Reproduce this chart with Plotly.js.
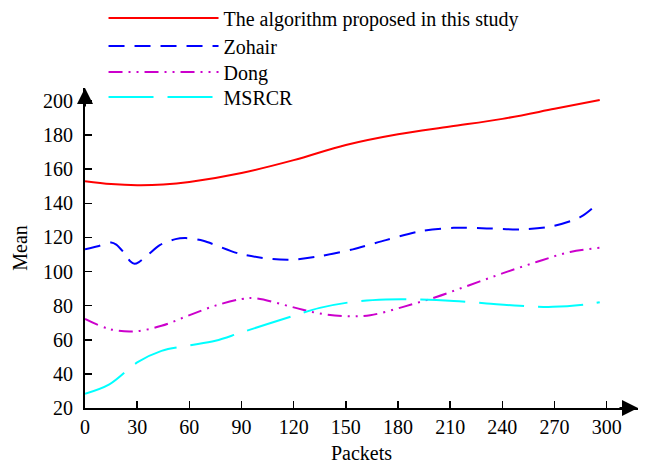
<!DOCTYPE html>
<html>
<head>
<meta charset="utf-8">
<script src="https://cdn.plot.ly/plotly-3.0.1.min.js"></script>
<style>html,body{margin:0;padding:0;background:#fff;}#chart{width:651px;height:464px;}</style>
</head>
<body>
<div id="chart"></div>
<script>
var seriesNames = ["The algorithm proposed in this study", "Zohair", "Dong", "MSRCR"];

var xOurs = [0, 15, 30, 45, 60, 90, 120, 150, 180, 210, 240, 270, 296];
var yOurs = [153, 151.3, 150.6, 151, 152.5, 157.8, 165.3, 174.2, 180.5, 185, 189.5, 195.4, 200.6];

var xZohair = [0, 8, 15, 18, 22, 26, 28.5, 31, 36, 43, 52, 58, 68, 89, 108, 120, 135, 154, 173, 193, 212, 231, 250, 269, 285, 295];
var yZohair = [113, 115, 117, 115.8, 111.5, 106, 104.5, 105.5, 109.6, 115.5, 119, 119.6, 118, 110.4, 107.3, 107, 109, 113, 118.4, 123.7, 125.6, 125.3, 124.7, 126.6, 132, 140];

var xDong = [0, 14, 28, 44, 59, 75, 90, 98, 120, 135, 150, 164, 183, 202, 221, 240, 260, 279, 296];
var yDong = [72.2, 66.3, 64.9, 68.2, 74, 80, 83.9, 84.3, 79, 75.4, 73.8, 74.4, 79.3, 85.1, 92, 98.9, 105.7, 111.5, 113.9];

var xMSRCR = [0, 14, 30, 44, 59, 75, 90, 120, 135, 154, 173, 193, 212, 231, 250, 269, 288, 296];
var yMSRCR = [28.4, 33.9, 46.7, 53.5, 56.5, 59.4, 64.3, 74.1, 78.7, 82.2, 83.6, 83.6, 82.8, 81.3, 79.9, 79.3, 80.7, 82];

var xTicks = [0, 30, 60, 90, 120, 150, 180, 210, 240, 270, 300];
var yTicks = [20, 40, 60, 80, 100, 120, 140, 160, 180, 200];

var FONT = "'Liberation Serif', 'Times New Roman', Times, serif";

var traces = [
  {x: xOurs, y: yOurs, name: seriesNames[0], mode: "lines", legend: "legend",
   line: {color: "#ff0000", width: 2, shape: "spline", smoothing: 1}},
  {x: xZohair, y: yZohair, name: seriesNames[1], mode: "lines", legend: "legend2",
   line: {color: "#0000ff", width: 2, shape: "spline", smoothing: 0.8, dash: "16px,10px"}},
  {x: xDong, y: yDong, name: seriesNames[2], mode: "lines", legend: "legend3",
   line: {color: "#cc00cc", width: 2, shape: "spline", smoothing: 1, dash: "14px,6px,2px,6px,2px,6px"}},
  {x: xMSRCR, y: yMSRCR, name: seriesNames[3], mode: "lines", legend: "legend4",
   line: {color: "#00ffff", width: 2, shape: "spline", smoothing: 1, dash: "45px,14px"}}
];

function leg(yPix) {
  return {x: 0.0335, y: (408 - yPix) / 320, xanchor: "left", yanchor: "middle",
          bgcolor: "rgba(0,0,0,0)", borderwidth: 0,
          font: {family: FONT, size: 20, color: "#000"}, itemwidth: 110};
}

var layout = {
  width: 651, height: 464,
  margin: {l: 85, r: 13, t: 88, b: 56, autoexpand: false},
  paper_bgcolor: "#fff", plot_bgcolor: "#fff",
  font: {family: FONT, size: 20, color: "#000"},
  showlegend: true,
  legend: leg(18), legend2: leg(46), legend3: leg(72), legend4: leg(97),
  xaxis: {range: [0, 318], tickvals: xTicks, ticktext: xTicks.map(String),
          showgrid: false, zeroline: false, showline: true, linecolor: "#000", linewidth: 2,
          ticks: "inside", ticklen: 7, tickwidth: 1.5, tickcolor: "#000",
          tickfont: {family: FONT, size: 20, color: "#000"},
          title: {text: "Packets", font: {family: FONT, size: 20, color: "#000"}, standoff: 17}},
  yaxis: {range: [20, 207.6], tickvals: yTicks, ticktext: yTicks.map(String),
          showgrid: false, zeroline: false, showline: true, linecolor: "#000", linewidth: 2,
          ticks: "inside", ticklen: 7, tickwidth: 1.5, tickcolor: "#000", ticklabelstandoff: 6,
          tickfont: {family: FONT, size: 20, color: "#000"},
          title: {text: "Mean", font: {family: FONT, size: 20, color: "#000"}, standoff: 10}},
  annotations: [
    {xref: "paper", yref: "paper", x: 1, y: 0, ax: -20, ay: 0, text: "", showarrow: true,
     arrowhead: 2, arrowsize: 1.6, arrowwidth: 2, arrowcolor: "#000", standoff: 0},
    {xref: "paper", yref: "paper", x: 0, y: 1, ax: 0, ay: 20, text: "", showarrow: true,
     arrowhead: 2, arrowsize: 1.6, arrowwidth: 2, arrowcolor: "#000", standoff: 0}
  ]
};

Plotly.newPlot("chart", traces, layout, {staticPlot: true, displayModeBar: false});
</script>
</body>
</html>
